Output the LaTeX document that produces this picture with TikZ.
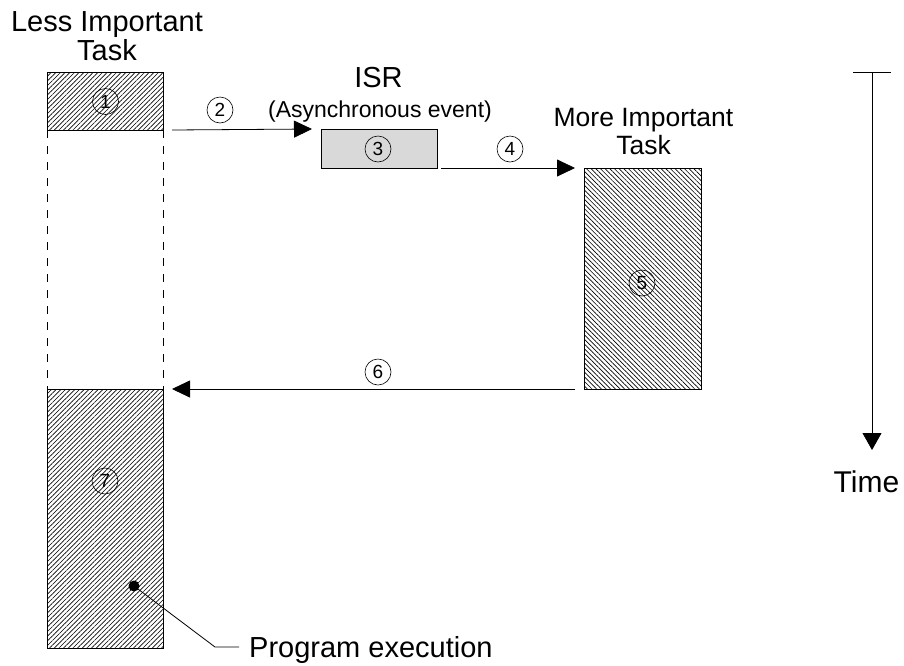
\documentclass[tikz,border=0pt]{standalone}
\usepackage{fontspec}
\setmainfont{Liberation Sans}
\usetikzlibrary{patterns.meta,arrows.meta}
\begin{document}
\begin{tikzpicture}[x=1pt,y=-1pt,
  box/.style={draw=black,line width=0.8pt,minimum width=116pt,inner sep=0pt,outer sep=0pt},
  hatchne/.style={box,pattern={Lines[angle=45,distance=3.3pt,line width=0.65pt]}},
  hatchnw/.style={box,pattern={Lines[angle=-45,distance=3.3pt,line width=0.65pt]}},
  num/.style={draw,circle,line width=0.6pt,minimum size=26pt,inner sep=0pt,font=\fontsize{19}{19}\selectfont},
  arr/.style={line width=0.8pt,-{Triangle[length=18pt,width=17pt]}},
  dashline/.style={line width=0.8pt,dash pattern=on 8pt off 8pt},
  thinline/.style={line width=0.8pt},
  title/.style={font=\fontsize{29}{29}\selectfont,align=center,inner sep=0pt,anchor=north},
  label/.style={font=\fontsize{29}{29}\selectfont,inner sep=0pt},
]
\useasboundingbox (0,0) rectangle (904,665);

% boxes
\node[hatchne,minimum height=58pt] (b1) at (105,101) {};
\node[hatchne,minimum height=259pt] (b7) at (105,518.5) {};
\node[box,fill=black!15,minimum height=39pt] (b3) at (379,148.5) {};
\node[hatchnw,minimum width=117pt,minimum height=221pt] (b5) at (642.5,278.5) {};

% dashed continuation
\draw[dashline] (b1.south west) -- (b7.north west);
\draw[dashline] (b1.south east) -- (b7.north east);

% titles
\node[title] (tless) at (107,11.5) {Less Important\\Task};
\node[label,anchor=base] (isr) at (378.5,87) {ISR};
\node[font=\fontsize{23}{25}\selectfont,inner sep=0pt,anchor=base] (async) at (380,117) {(Asynchronous event)};
\node[title,font=\fontsize{26.5}{28}\selectfont] (tmore) at (643.5,108) {More Important\\Task};

% numbered circles
\node[num] (n1) at (105.5,101.5) {1};
\node[num] (n2) at (220,110) {2};
\node[num] (n3) at (378,149) {3};
\node[num] (n4) at (510,149) {4};
\node[num] (n5) at (642,283) {5};
\node[num] (n6) at (378,372) {6};
\node[num] (n7) at (105,481) {7};

% arrows
\draw[arr] ([xshift=9pt]b1.south east) -- ([xshift=-9pt]b3.north west);
\draw[arr] ([xshift=4pt]b3.south east) -- ([xshift=-9pt]b5.north west);
\draw[arr] ([xshift=-9pt]b5.south west) -- ([xshift=9pt]b7.north east);

% time axis
\coordinate (tickl) at (853,72);
\coordinate (tickr) at (891,72);
\coordinate (ttop) at (872,72);
\coordinate (tbot) at (872,450);
\draw[thinline] (tickl) -- (tickr);
\draw[arr,-{Triangle[length=17pt,width=19pt]}] (ttop) -- (tbot);
\node[font=\fontsize{30}{30}\selectfont,inner sep=0pt,anchor=base] (time) at (866.5,492) {Time};

% program execution leader
\node[circle,fill=black,minimum size=11pt,inner sep=0pt] (dot) at (134,586) {};
\node[label,anchor=base west] (prog) at (249,657) {Program execution};
\coordinate (bend) at (215,647);
\coordinate (lend) at (239,647);
\draw[thinline] (dot.center) -- (bend) -- (lend);
\end{tikzpicture}
\end{document}
